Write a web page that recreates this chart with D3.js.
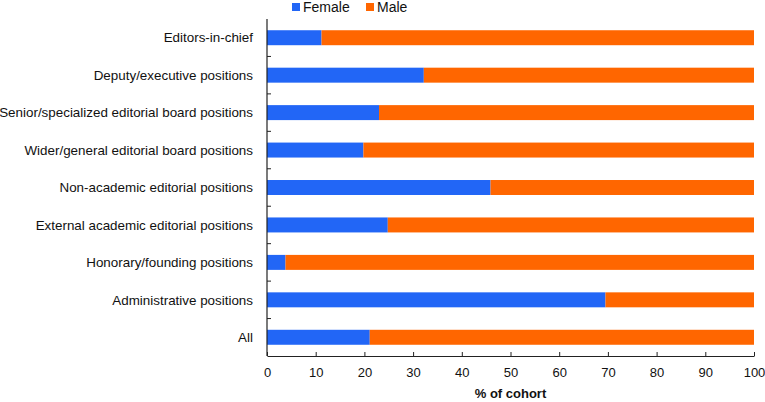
<!DOCTYPE html>
<html><head><meta charset="utf-8">
<script src="https://cdn.jsdelivr.net/npm/d3@7"></script>
<style>body{margin:0;background:#fff}svg text{font-family:"Liberation Sans",Arial,Helvetica,sans-serif}</style>
</head><body><svg id="c" width="765" height="402"></svg>
<script>
const categories = ["Editors-in-chief","Deputy/executive positions","Senior/specialized editorial board positions","Wider/general editorial board positions","Non-academic editorial positions","External academic editorial positions","Honorary/founding positions","Administrative positions","All"];
const female = [11.2, 32.2, 23.0, 19.8, 45.9, 24.8, 3.8, 69.5, 21.1];
const male = female.map(v => 100 - v);
const xTicks = [0,10,20,30,40,50,60,70,80,90,100];
const seriesNames = ["Female","Male"];
const colors = ["#2266f6","#ff6600"];

const svg = d3.select("#c");
const L = 267, R = 754, T = 19, B = 356;
const x = d3.scaleLinear().domain([0,100]).range([L,R]);
const y = d3.scaleBand().domain(categories).range([T,B]).paddingInner(0.6).paddingOuter(0.3);
const yb = d3.scaleBand().domain(categories).range([T,B]);

const rows = categories.map((c,i)=>({cat:c, Female:female[i], Male:male[i]}));
const stack = d3.stack().keys(seriesNames)(rows);

svg.append("g").selectAll("g").data(stack).join("g").attr("fill",(d,i)=>colors[i])
  .selectAll("rect").data(d=>d).join("rect")
  .attr("x",d=>x(d[0])).attr("width",d=>x(d[1])-x(d[0]))
  .attr("y",d=>y(d.data.cat)).attr("height",y.bandwidth());

// x axis
const xa = svg.append("g").attr("transform",`translate(0,${B})`)
  .call(d3.axisBottom(x).tickValues(xTicks).tickSize(-4).tickPadding(12).tickSizeOuter(0));
xa.select(".domain").attr("stroke","#222").attr("stroke-width",1.2);
xa.selectAll(".tick line").attr("stroke","#222");
xa.selectAll("text").attr("font-size",13).attr("fill","#111");

// y axis line and separators
svg.append("line").attr("x1",L).attr("x2",L).attr("y1",T).attr("y2",B).attr("stroke","#222").attr("stroke-width",1.2);
svg.append("g").selectAll("line").data(categories.slice(1)).join("line")
  .attr("x1",L).attr("x2",L+4).attr("y1",d=>yb(d)).attr("y2",d=>yb(d)).attr("stroke","#222");
svg.append("g").selectAll("text").data(categories).join("text")
  .attr("x",253).attr("y",d=>y(d)+y.bandwidth()/2).attr("dy","0.35em")
  .attr("text-anchor","end").attr("font-size",13.4).attr("fill","#111").text(d=>d);

svg.append("text").attr("x",(L+R)/2).attr("y",398).attr("text-anchor","middle")
  .attr("font-size",13).attr("font-weight","bold").attr("fill","#111").text("% of cohort");

// legend
const lg = svg.append("g");
const lx = [292, 366];
seriesNames.forEach((n,i)=>{
  lg.append("rect").attr("x",lx[i]).attr("y",3).attr("width",8).attr("height",8).attr("fill",colors[i]);
  lg.append("text").attr("x",lx[i]+11).attr("y",7.5).attr("dy","0.35em").attr("font-size",14).attr("fill","#111").text(n);
});
</script></body></html>
